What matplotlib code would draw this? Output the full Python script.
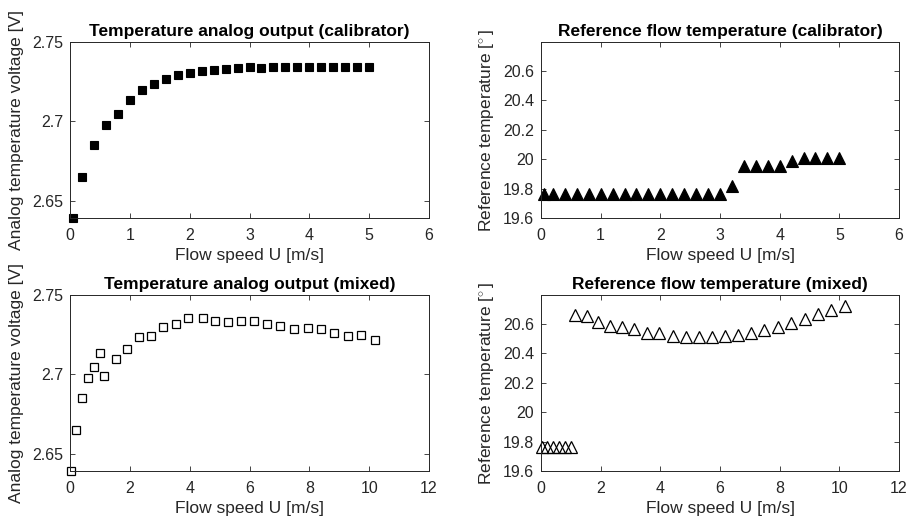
import matplotlib
matplotlib.use("Agg")
import matplotlib.pyplot as plt

plt.rcParams['font.family'] = ['Liberation Sans', 'DejaVu Sans']
plt.rcParams['mathtext.fontset'] = 'custom'
plt.rcParams['mathtext.rm'] = 'Liberation Sans'

# Calibrator run
u_cal = [0.05, 0.2, 0.4, 0.6, 0.8, 1.0, 1.2, 1.4, 1.6, 1.8, 2.0, 2.2, 2.4,
         2.6, 2.8, 3.0, 3.2, 3.4, 3.6, 3.8, 4.0, 4.2, 4.4, 4.6, 4.8, 5.0]
v_cal = [2.6392, 2.665, 2.685, 2.698, 2.7045, 2.7135, 2.720, 2.7235, 2.727,
         2.729, 2.7305, 2.7315, 2.7325, 2.733, 2.7335, 2.7345, 2.7335, 2.734,
         2.734, 2.734, 2.7342, 2.734, 2.734, 2.7342, 2.7342, 2.734]
t_cal = [19.76, 19.76, 19.76, 19.76, 19.76, 19.76, 19.76, 19.76, 19.76,
         19.76, 19.76, 19.76, 19.76, 19.76, 19.76, 19.76, 19.82, 19.95,
         19.95, 19.95, 19.95, 19.985, 20.007, 20.007, 20.007, 20.007]

# Mixed run
u_mix = [0.05, 0.2, 0.4, 0.6, 0.8, 1.0, 1.14, 1.54, 1.9, 2.32, 2.72, 3.12,
         3.55, 3.96, 4.43, 4.85, 5.28, 5.72, 6.16, 6.6, 7.03, 7.49, 7.94,
         8.39, 8.84, 9.28, 9.73, 10.18]
v_mix = [2.6392, 2.665, 2.685, 2.698, 2.7045, 2.7135, 2.6988, 2.7096,
         2.716, 2.7233, 2.7241, 2.7296, 2.7316, 2.7356, 2.7356, 2.7336,
         2.733, 2.7335, 2.7337, 2.732, 2.7307, 2.7284, 2.7292, 2.7284,
         2.7263, 2.7242, 2.725, 2.7219]
t_mix = [19.76, 19.76, 19.76, 19.76, 19.76, 19.76, 20.659, 20.651, 20.613,
         20.585, 20.578, 20.566, 20.539, 20.539, 20.52, 20.511, 20.512,
         20.512, 20.518, 20.526, 20.539, 20.56, 20.58, 20.602, 20.629,
         20.667, 20.691, 20.722]

titles = ["Temperature analog output (calibrator)",
          "Reference flow temperature (calibrator)",
          "Temperature analog output (mixed)",
          "Reference flow temperature (mixed)"]
xlabel = "Flow speed U [m/s]"
ylabel_v = "Analog temperature voltage [V]"
ylabel_t = "Reference temperature [$^{\\circ}\\,$]"

axc = (0.15, 0.15, 0.15)

fig = plt.figure(figsize=(9.08, 5.24), dpi=100)
W, H = 908, 524


def make_ax(l, r, t, b):
    return fig.add_axes([l / W, 1 - b / H, (r - l) / W, (b - t) / H])


ax1 = make_ax(70, 429, 42, 218)
ax2 = make_ax(541, 899, 42, 218)
ax3 = make_ax(70, 429, 295, 471)
ax4 = make_ax(541, 899, 295, 471)

ax1.plot(u_cal, v_cal, 's', color='black', markersize=6.3, markeredgewidth=0.8,
         clip_on=False)
ax2.plot(u_cal, t_cal, '^', color='black', markersize=8.5, markeredgewidth=0.8,
         clip_on=False)
ax3.plot(u_mix, v_mix, 's', markerfacecolor='none', markeredgecolor='black',
         markersize=6.3, markeredgewidth=0.9, clip_on=False)
ax4.plot(u_mix, t_mix, '^', markerfacecolor='none', markeredgecolor='black',
         markersize=8.5, markeredgewidth=0.9, clip_on=False)

for ax in (ax1, ax3):
    ax.set_ylim(min(v_cal), 2.75)
    ax.set_yticks([2.65, 2.7, 2.75])
    ax.set_yticklabels(["2.65", "2.7", "2.75"])
    ax.set_ylabel(ylabel_v, fontsize=12.5, color=axc, labelpad=6)
for ax in (ax2, ax4):
    ax.set_ylim(19.6, 20.795)
    ax.set_yticks([19.6, 19.8, 20.0, 20.2, 20.4, 20.6])
    ax.set_yticklabels(["19.6", "19.8", "20", "20.2", "20.4", "20.6"])
    ax.set_ylabel(ylabel_t, fontsize=12.5, color=axc, labelpad=4.5)
for ax in (ax1, ax2):
    ax.set_xlim(0, 6)
    ax.set_xticks(range(0, 7))
for ax in (ax3, ax4):
    ax.set_xlim(0, 12)
    ax.set_xticks(range(0, 13, 2))

for ax, title in zip((ax1, ax2, ax3, ax4), titles):
    ax.set_title(title, fontsize=12.5, fontweight='bold', pad=4)
    ax.set_xlabel(xlabel, fontsize=12.5, color=axc, labelpad=3)
    ax.tick_params(direction='in', length=3.5, width=0.6, top=True, right=True,
                   labelsize=11.5, colors=axc)
    ax.tick_params(axis='x', pad=7.5)
    ax.tick_params(axis='y', pad=5)
    for s in ax.spines.values():
        s.set_color(axc)
        s.set_linewidth(0.7)

fig.savefig("out.png", dpi=100)
